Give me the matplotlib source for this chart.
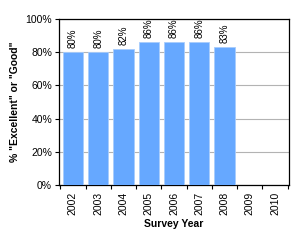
import matplotlib
matplotlib.use('Agg')
import matplotlib.pyplot as plt
import numpy as np

plt.rcParams['font.family'] = ['Liberation Sans', 'DejaVu Sans']

years = ['2002', '2003', '2004', '2005', '2006', '2007', '2008', '2009', '2010']
values = [80, 80, 82, 86, 86, 86, 83, np.nan, np.nan]
labels = ['80%', '80%', '82%', '86%', '86%', '86%', '83%', '', '']

fig = plt.figure(figsize=(3.01, 2.41), dpi=100)
ax = fig.add_axes([59 / 301, 1 - 185 / 241, 230 / 301, 166 / 241])

x = np.arange(len(years))
ax.bar(x, values, width=0.8, color='#66a8ff', edgecolor='#a8cdfc', linewidth=0.6, zorder=3)
for xi, v, lab in zip(x, values, labels):
    if lab:
        ax.text(xi, v + 2.5, lab, rotation=90, ha='center', va='bottom', fontsize=7)

ax.set_xlim(-0.55, len(years) - 0.45)
ax.set_ylim(0, 100)
ax.set_yticks(range(0, 101, 20))
ax.set_yticklabels([f'{t}%' for t in range(0, 101, 20)], fontsize=7.5)
ax.set_xticks(x)
ax.set_xticklabels(years, rotation=90, fontsize=7.5)
ax.set_xticks(np.arange(-0.5, len(years), 1), minor=True)
ax.tick_params(axis='x', which='major', length=0, pad=5)
ax.tick_params(axis='x', which='minor', length=3, width=0.8)
ax.tick_params(axis='y', length=3, width=0.8, pad=2)
ax.yaxis.grid(True, color='#b3b3b3', linewidth=0.8, zorder=0)
for s in ax.spines.values():
    s.set_linewidth(0.9)

ax.set_xlabel('Survey Year', fontsize=7.5, fontweight='bold', labelpad=3)
ax.set_ylabel('% "Excellent" or "Good"', fontsize=7.5, fontweight='bold', labelpad=4)

fig.savefig('out.png', dpi=100)
